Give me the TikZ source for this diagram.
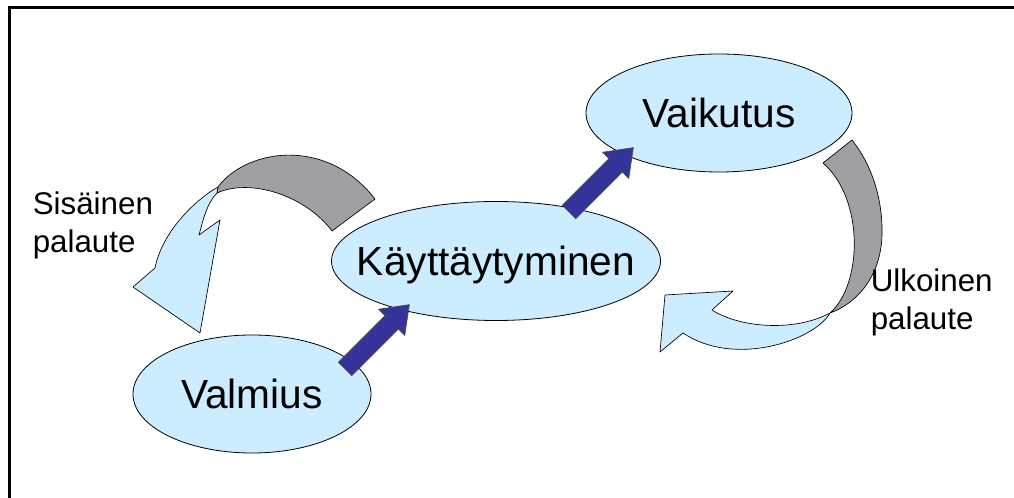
\documentclass[tikz,border=0pt]{standalone}
\usepackage{fontspec}
\setmainfont{Liberation Sans}
\usetikzlibrary{shapes.geometric}
\definecolor{lightblue}{HTML}{CCECFF}
\definecolor{ribbongray}{HTML}{A0A0A4}
\definecolor{darkblue}{HTML}{333399}

\begin{document}
\begin{tikzpicture}[x=0.75pt,y=-0.75pt,
  bubble/.style={ellipse,draw=black,line width=0.6pt,fill=lightblue,inner sep=0pt,
    font=\fontsize{30.5pt}{36pt}\selectfont,text height=22pt,text depth=0pt},
  blockarr/.style={draw=black!70,line width=0.5pt,fill=darkblue},
  ribbon/.style={draw=black,line width=0.5pt,fill=ribbongray,line join=round},
  face/.style={draw=black,line width=0.5pt,fill=lightblue,line join=round},
  lbl/.style={anchor=north west,inner sep=0pt,align=left,
    font=\fontsize{23.5pt}{28pt}\selectfont}]
\useasboundingbox (0,0) rectangle (1014,498);
\draw[line width=2.25pt] (9,498) -- (9,8) -- (1014,8);

% the three states
\node[bubble,minimum width=246.75pt,minimum height=89.25pt] (kay) at (496,261) {\makebox[0pt]{Käyttäytyminen}};
\node[bubble,minimum width=178.5pt,minimum height=88.5pt] (val) at (252,394) {Valmius};
\node[bubble,minimum width=199.5pt,minimum height=88.5pt] (vai) at (719,113) {Vaikutus};

% block arrows
\coordinate (t1) at (345,369);
\coordinate (t2) at (569,212);
\foreach \t in {t1,t2}
  \draw[blockarr,shift={(\t)},rotate=45] (0,-9.5) -- (66,-9.5) -- (66,-18.5) -- (91,0)
    -- (66,18.5) -- (66,9.5) -- (0,9.5) -- cycle;

% sisainen palaute
\draw[ribbon] (218,187) .. controls (245,150) and (325,135) .. (375,199) -- (332,231)
  .. controls (305,195) and (250,178) .. (217,193) -- cycle;
\draw[face] (218,187) .. controls (195,200) and (162,232) .. (155,268) -- (133,287)
  -- (200,333) -- (220,220) -- (199,235) .. controls (203,220) and (207,203) .. (217,193) -- cycle;

% ulkoinen palaute
\draw[ribbon] (852,140) .. controls (872,165) and (883,200) .. (882,235)
  .. controls (881,275) and (858,303) .. (830,313)
  .. controls (862,285) and (865,200) .. (823,163) -- cycle;
\draw[face] (830,313) .. controls (815,340) and (735,368) .. (683,333) -- (660,352)
  -- (665,295) -- (733,291) -- (712,310) .. controls (740,328) and (795,332) .. (830,313) -- cycle;

\node[lbl] (sis) at (32.5,192) {Sisäinen\\palaute};
\node[lbl] (ulk) at (870.5,269) {Ulkoinen\\palaute};
\end{tikzpicture}
\end{document}
